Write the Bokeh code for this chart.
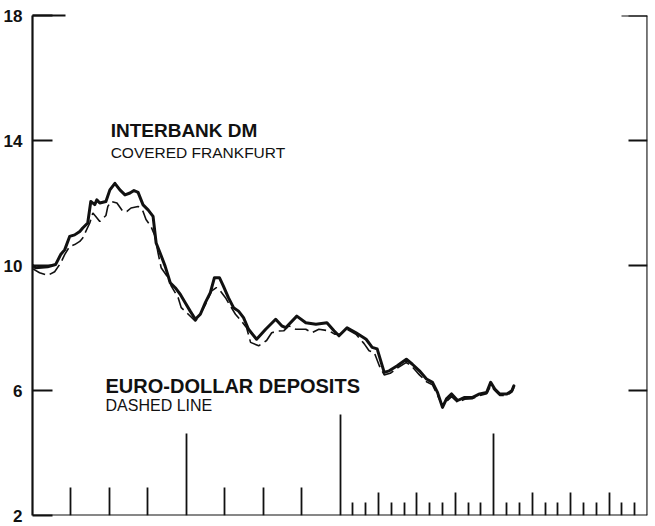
from bokeh.plotting import figure
from bokeh.models import Range1d, LinearAxis, FixedTicker, Label, CustomJSTickFormatter, ColumnDataSource
from bokeh.embed import file_html
from bokeh.resources import INLINE

# ---- data (months from start of period, percent per annum) ----
interbank_months = [0.0, 0.24, 1.18, 1.80, 2.20, 2.51, 2.90, 3.29, 3.69, 3.92, 4.31, 4.55, 4.86, 5.02,
                    5.25, 5.73, 6.04, 6.43, 6.82, 7.22, 7.61, 7.92, 8.24, 8.63, 9.02, 9.41, 9.65, 9.96,
                    10.35, 10.75, 11.14, 11.53, 11.92, 12.31, 12.71, 13.10, 13.49, 13.88, 14.20, 14.59,
                    14.90, 15.29, 15.69, 16.08, 16.47, 16.86, 17.49, 18.20, 18.98, 19.45, 19.76, 20.63,
                    21.33, 22.12, 22.98, 23.53, 23.92, 24.55, 25.25, 26.04, 26.51, 26.90, 27.45, 27.84,
                    28.47, 29.18, 29.65, 30.20, 30.75, 31.22, 31.61, 32.00, 32.31, 32.71, 33.18, 33.73,
                    34.35, 34.90, 35.45, 35.76, 36.08, 36.47, 37.02, 37.41, 37.57]
interbank_dm = [10.0, 9.93, 9.96, 10.03, 10.35, 10.5, 10.93, 10.98, 11.09, 11.2, 11.36, 12.05, 11.95, 12.1,
                12.0, 12.05, 12.42, 12.63, 12.42, 12.26, 12.32, 12.4, 12.34, 11.94, 11.78, 11.57, 10.72, 10.4,
                9.98, 9.45, 9.29, 9.08, 8.81, 8.54, 8.28, 8.44, 8.81, 9.13, 9.61, 9.61,
                9.34, 8.97, 8.65, 8.54, 8.33, 7.96, 7.64, 7.96, 8.28, 8.07, 8.01, 8.38,
                8.17, 8.12, 8.17, 7.91, 7.75, 8.01, 7.85, 7.64, 7.38, 7.33, 6.58, 6.63,
                6.79, 7.0, 6.84, 6.63, 6.37, 6.26, 5.94, 5.46, 5.73, 5.89, 5.68, 5.78,
                5.78, 5.89, 5.94, 6.26, 6.05, 5.89, 5.89, 5.99, 6.15]

euro_months = [0.0, 0.55, 1.18, 1.73, 2.20, 2.51, 2.90, 3.29, 3.69, 3.92, 4.16, 4.47, 4.71, 4.94,
               5.25, 5.73, 5.88, 6.12, 6.59, 7.06, 7.37, 7.69, 8.24, 8.63, 8.86, 9.25, 9.57, 9.80,
               10.04, 10.59, 10.82, 11.37, 11.61, 12.16, 12.71, 12.94, 13.49, 13.96, 14.35, 14.67,
               15.06, 15.45, 15.84, 16.31, 16.71, 17.02, 17.65, 18.27, 18.67, 19.14, 19.61, 20.0,
               20.55, 21.33, 21.80, 22.35, 23.14, 23.61, 24.0, 24.55, 25.25, 25.88, 26.27, 26.67,
               27.06, 27.45, 27.92, 28.47, 29.18, 29.65, 30.20, 30.75, 31.22, 31.61, 32.0, 32.31,
               32.71, 33.18, 33.73, 34.35, 34.90, 35.45, 35.76, 36.08, 36.47, 37.02, 37.41, 37.57]
euro_dollar = [9.9, 9.77, 9.68, 9.8, 10.08, 10.35, 10.61, 10.67, 10.77, 10.88, 11.09, 11.36, 11.68, 11.57,
               11.41, 11.6, 11.89, 12.05, 12.0, 11.73, 11.73, 11.84, 11.89, 11.73, 11.47, 11.25, 10.93, 10.4,
               9.93, 9.61, 9.35, 8.97, 8.65, 8.44, 8.22, 8.33, 8.75, 9.18, 9.29, 9.18,
               8.97, 8.7, 8.44, 8.22, 8.01, 7.54, 7.43, 7.6, 7.85, 7.9, 7.91, 8.07,
               7.96, 7.96, 7.85, 7.96, 7.91, 7.8, 7.8, 7.96, 7.8, 7.5, 7.27, 7.22,
               6.8, 6.5, 6.55, 6.72, 6.9, 6.75, 6.5, 6.28, 6.18, 5.85, 5.5, 5.65,
               5.8, 5.62, 5.72, 5.74, 5.84, 5.9, 6.15, 6.0, 5.84, 5.84, 5.95, 6.1]

y_ticks = [2, 6, 10, 14, 18]
right_ticks = [6, 10, 14, 18]
top_tick = [18]
year_ticks = [12, 36]
middle_year_tick = [24]
early_quarter_ticks = [3, 6, 9, 15, 18, 21]
late_quarter_ticks = [27, 30, 33, 39, 42, 45]
late_month_ticks = [25, 26, 28, 29, 31, 32, 34, 35, 37, 38, 40, 41, 43, 44, 46, 47]

INK = "#111111"

p = figure(width=655, height=526, x_range=Range1d(0, 48), y_range=Range1d(2, 18),
           output_backend="svg", toolbar_location=None,
           x_axis_location=None, y_axis_location=None,
           min_border_left=30, min_border_right=8, min_border_top=15, min_border_bottom=11)
p.outline_line_color = None
p.grid.visible = False
p.background_fill_color = "white"
p.border_fill_color = "white"

blank = CustomJSTickFormatter(code="return ''")


def style_axis(ax, tick_in, minor_in, line=True):
    ax.major_tick_in = tick_in
    ax.major_tick_out = 0
    ax.minor_tick_in = minor_in
    ax.minor_tick_out = 0
    ax.major_tick_line_color = INK
    ax.minor_tick_line_color = INK
    ax.major_tick_line_width = 1.8
    ax.minor_tick_line_width = 1.8
    ax.axis_line_color = INK if line else None
    ax.axis_line_width = 2.2


# left axis with labels
left = LinearAxis(ticker=FixedTicker(ticks=y_ticks, minor_ticks=top_tick))
style_axis(left, 20, 33)
left.major_label_standoff = 10
left.major_label_text_font = "Liberation Sans"
left.major_label_text_font_style = "bold"
left.major_label_text_font_size = "17px"
left.major_label_text_color = INK
p.add_layout(left, "left")

# right axis (frame side)
right = LinearAxis(ticker=FixedTicker(ticks=right_ticks, minor_ticks=top_tick),
                   formatter=blank, fixed_location=48)
style_axis(right, 19, 26)
p.add_layout(right, "right")

# bottom time axis, built from several tick sets of different lengths
b1 = LinearAxis(ticker=FixedTicker(ticks=year_ticks, minor_ticks=middle_year_tick),
                formatter=blank, fixed_location=2)
style_axis(b1, 82, 101)
p.add_layout(b1, "below")

b2 = LinearAxis(ticker=FixedTicker(ticks=early_quarter_ticks, minor_ticks=late_month_ticks),
                formatter=blank, fixed_location=2)
style_axis(b2, 28, 13, line=False)
p.add_layout(b2, "below")

b3 = LinearAxis(ticker=FixedTicker(ticks=late_quarter_ticks), formatter=blank, fixed_location=2)
style_axis(b3, 23, 0, line=False)
p.add_layout(b3, "below")

# series
src_i = ColumnDataSource(dict(x=interbank_months, y=interbank_dm))
src_e = ColumnDataSource(dict(x=euro_months, y=euro_dollar))
p.line("x", "y", source=src_e, line_color=INK, line_width=1.6, line_dash="14 5")
p.line("x", "y", source=src_i, line_color=INK, line_width=3, line_join="round", line_cap="round")

# annotations
p.add_layout(Label(x=6.1, y=14.33, text="INTERBANK DM", text_font="Liberation Sans",
                   text_font_style="bold", text_font_size="19px", text_color=INK,
                   text_baseline="alphabetic"))
p.add_layout(Label(x=6.1, y=13.63, text="COVERED FRANKFURT", text_font="Liberation Sans",
                   text_font_size="15.5px", text_color=INK, text_baseline="alphabetic"))
p.add_layout(Label(x=5.7, y=6.13, text="EURO-DOLLAR DEPOSITS", text_font="Liberation Sans",
                   text_font_style="bold", text_font_size="20px", text_color=INK,
                   text_baseline="alphabetic"))
p.add_layout(Label(x=5.7, y=5.51, text="DASHED LINE", text_font="Liberation Sans",
                   text_font_size="16px", text_color=INK, text_baseline="alphabetic"))

open("out.html", "w").write(file_html(p, INLINE))
